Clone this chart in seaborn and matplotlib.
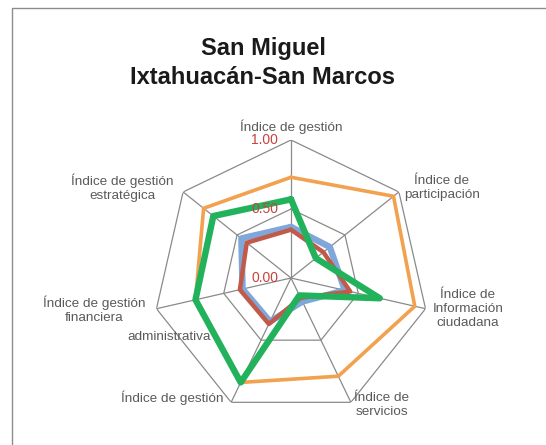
import numpy as np
import pandas as pd
import seaborn as sns
import matplotlib.pyplot as plt
from matplotlib.patches import Rectangle

sns.set_style("white")
plt.rcParams['font.family'] = ['Liberation Sans', 'DejaVu Sans']

# Datos (indices de 0 a 1)
ejes = ["Índice de gestión", "Índice de participación",
        "Índice de Información ciudadana", "Índice de servicios",
        "Índice de gestión administrativa", "Índice de gestión financiera",
        "Índice de gestión estratégica"]
serie_azul = [0.37, 0.36, 0.40, 0.19, 0.35, 0.36, 0.46]
serie_roja = [0.35, 0.30, 0.44, 0.16, 0.37, 0.38, 0.41]
serie_naranja = [0.73, 0.95, 0.92, 0.79, 0.84, 0.71, 0.81]
serie_verde = [0.57, 0.23, 0.66, 0.14, 0.84, 0.71, 0.72]
marcas = [0.0, 0.5, 1.0]

W, H = 546, 445
gris = "#8a8a8a"
texto = "#5a5a5a"
rojo = "#c8413c"

n = len(ejes)
theta = np.linspace(0, 2 * np.pi, n + 1)

series = [("azul", serie_azul, "#7fa7d9", 4.6),
          ("roja", serie_roja, "#c25a4a", 3.2),
          ("naranja", serie_naranja, "#f2a14f", 2.6),
          ("verde", serie_verde, "#22b25b", 4.6)]

fig = plt.figure(figsize=(W / 100, H / 100), dpi=100)

# marco gris alrededor del grafico
fig.patches.append(Rectangle((12 / W, -0.1), 1.2, 1 - 8 / H + 0.1,
                             transform=fig.transFigure, fill=False,
                             edgecolor="#8c8c8c", linewidth=1.0))

cx, cy, R = 291, 278, 138
ax = fig.add_axes([(cx - R) / W, (H - cy - R) / H, 2 * R / W, 2 * R / H],
                  projection="polar")
ax.set_theta_offset(np.pi / 2)
ax.set_theta_direction(-1)
ax.grid(False)
ax.spines["polar"].set_visible(False)
ax.set_xticks([])
ax.set_yticks([])
ax.set_facecolor("none")

# anillos y radios
for r in marcas[1:]:
    ax.plot(theta, [r] * (n + 1), color=gris, lw=0.9, zorder=1)
for t in theta[:-1]:
    ax.plot([t, t], [0, 1], color=gris, lw=0.9, zorder=1)

for nombre, vals, color, lw in series:
    df = pd.DataFrame({"theta": theta, "valor": vals + vals[:1]})
    sns.lineplot(data=df, x="theta", y="valor", sort=False, estimator=None,
                 color=color, linewidth=lw, ax=ax, zorder=3)
ax.set_ylim(0, 1)
ax.set_xlabel("")
ax.set_ylabel("")

for v in marcas:
    ax.annotate(f"{v:.2f}", xy=(0, v), xytext=(-13, 0),
                textcoords="offset pixels", ha="right", va="center",
                color=rojo, fontsize=10, zorder=5)

def px(x, y):
    return x / W, 1 - y / H

etiquetas = [("Índice de gestión", 291, 127),
             ("Índice de\nparticipación", 442, 188),
             ("Índice de\nInformación\nciudadana", 468, 309),
             ("Índice de\nservicios", 382, 405),
             ("Índice de gestión", 172, 398),
             ("administrativa", 169, 337),
             ("Índice de gestión\nfinanciera", 94, 310),
             ("Índice de gestión\nestratégica", 122, 188)]
for txt, x, y in etiquetas:
    fig.text(*px(x, y), txt, ha="center", va="center", color=texto,
             fontsize=9.7, linespacing=1.25)

fig.text(*px(263, 63), "San Miguel\nIxtahuacán-San Marcos", ha="center",
         va="center", fontsize=17, fontweight="bold", color="#1a1a1a",
         linespacing=1.35)

fig.savefig("out.png", dpi=100)
